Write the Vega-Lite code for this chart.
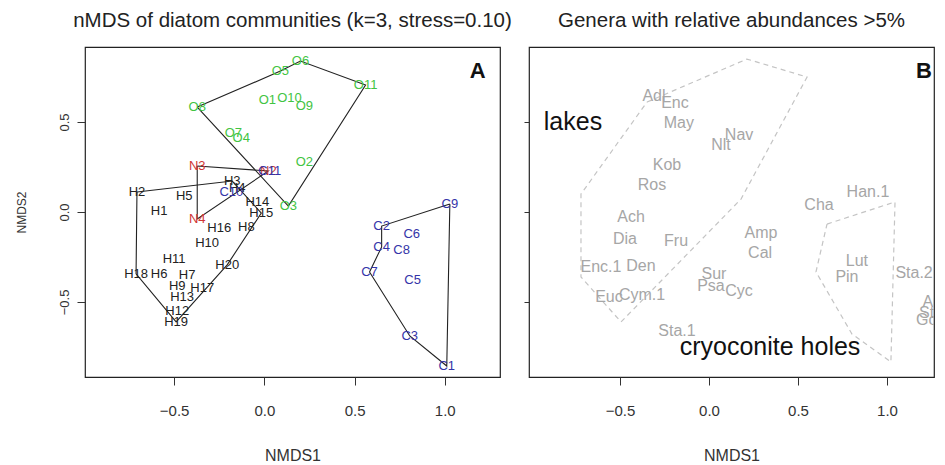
{
  "$schema": "https://vega.github.io/schema/vega-lite/v6.json",
  "padding": {"left": 14, "top": 9, "right": 0, "bottom": 0},
  "spacing": 29,
  "bounds": "flush",
  "config": {
    "font": "Liberation Sans",
    "view": {"stroke": "#222222", "strokeWidth": 1.2},
    "axis": {"grid": false, "domain": false, "tickColor": "#333333", "labelColor": "#333333", "titleColor": "#333333", "labelFont": "Liberation Sans", "titleFont": "Liberation Sans", "labelFontSize": 15, "titleFontSize": 16, "titleFontWeight": "normal", "tickSize": 8},
    "title": {"font": "Liberation Sans", "fontSize": 20.5, "fontWeight": "normal", "color": "#222222", "offset": 16}
  },
  "datasets": {
    "sitesA": [
      {"label": "O8", "grp": "O", "x": -0.372, "y": 0.583},
      {"label": "O5", "grp": "O", "x": 0.089, "y": 0.783},
      {"label": "O6", "grp": "O", "x": 0.2, "y": 0.839},
      {"label": "O11", "grp": "O", "x": 0.561, "y": 0.706},
      {"label": "O1", "grp": "O", "x": 0.017, "y": 0.622},
      {"label": "O10", "grp": "O", "x": 0.139, "y": 0.633},
      {"label": "O9", "grp": "O", "x": 0.222, "y": 0.589},
      {"label": "O7", "grp": "O", "x": -0.172, "y": 0.439},
      {"label": "O4", "grp": "O", "x": -0.128, "y": 0.411},
      {"label": "O2", "grp": "O", "x": 0.222, "y": 0.278},
      {"label": "O3", "grp": "O", "x": 0.133, "y": 0.033},
      {"label": "N3", "grp": "N", "x": -0.372, "y": 0.256},
      {"label": "N4", "grp": "N", "x": -0.372, "y": -0.039},
      {"label": "N2", "grp": "N", "x": 0.022, "y": 0.228},
      {"label": "H2", "grp": "H", "x": -0.706, "y": 0.111},
      {"label": "H18", "grp": "H", "x": -0.711, "y": -0.344},
      {"label": "H19", "grp": "H", "x": -0.489, "y": -0.611},
      {"label": "H12", "grp": "H", "x": -0.483, "y": -0.55},
      {"label": "H17", "grp": "H", "x": -0.344, "y": -0.422},
      {"label": "H20", "grp": "H", "x": -0.206, "y": -0.294},
      {"label": "H8", "grp": "H", "x": -0.1, "y": -0.083},
      {"label": "H15", "grp": "H", "x": -0.017, "y": -0.006},
      {"label": "H14", "grp": "H", "x": -0.039, "y": 0.056},
      {"label": "H3", "grp": "H", "x": -0.178, "y": 0.172},
      {"label": "H4", "grp": "H", "x": -0.15, "y": 0.133},
      {"label": "H5", "grp": "H", "x": -0.444, "y": 0.089},
      {"label": "H1", "grp": "H", "x": -0.583, "y": 0.006},
      {"label": "H16", "grp": "H", "x": -0.25, "y": -0.089},
      {"label": "H10", "grp": "H", "x": -0.317, "y": -0.172},
      {"label": "H11", "grp": "H", "x": -0.5, "y": -0.261},
      {"label": "H6", "grp": "H", "x": -0.583, "y": -0.344},
      {"label": "H7", "grp": "H", "x": -0.428, "y": -0.35},
      {"label": "H9", "grp": "H", "x": -0.483, "y": -0.411},
      {"label": "H13", "grp": "H", "x": -0.456, "y": -0.472},
      {"label": "C9", "grp": "C", "x": 1.028, "y": 0.044},
      {"label": "C2", "grp": "C", "x": 0.65, "y": -0.078},
      {"label": "C4", "grp": "C", "x": 0.65, "y": -0.194},
      {"label": "C7", "grp": "C", "x": 0.583, "y": -0.333},
      {"label": "C3", "grp": "C", "x": 0.806, "y": -0.689},
      {"label": "C1", "grp": "C", "x": 1.011, "y": -0.856},
      {"label": "C6", "grp": "C", "x": 0.817, "y": -0.122},
      {"label": "C8", "grp": "C", "x": 0.761, "y": -0.211},
      {"label": "C5", "grp": "C", "x": 0.822, "y": -0.378},
      {"label": "C10", "grp": "C", "x": -0.183, "y": 0.111},
      {"label": "C11", "grp": "C", "x": 0.03, "y": 0.228}
    ],
    "hullsA": [
      {"hull": "H", "ord": 1, "x": -0.706, "y": 0.111},
      {"hull": "H", "ord": 2, "x": -0.178, "y": 0.172},
      {"hull": "H", "ord": 3, "x": -0.017, "y": -0.006},
      {"hull": "H", "ord": 4, "x": -0.206, "y": -0.294},
      {"hull": "H", "ord": 5, "x": -0.489, "y": -0.611},
      {"hull": "H", "ord": 6, "x": -0.711, "y": -0.344},
      {"hull": "H", "ord": 7, "x": -0.706, "y": 0.111},
      {"hull": "O", "ord": 1, "x": -0.372, "y": 0.583},
      {"hull": "O", "ord": 2, "x": 0.089, "y": 0.783},
      {"hull": "O", "ord": 3, "x": 0.2, "y": 0.839},
      {"hull": "O", "ord": 4, "x": 0.561, "y": 0.706},
      {"hull": "O", "ord": 5, "x": 0.133, "y": 0.033},
      {"hull": "O", "ord": 6, "x": -0.372, "y": 0.583},
      {"hull": "N", "ord": 1, "x": -0.372, "y": 0.256},
      {"hull": "N", "ord": 2, "x": 0.022, "y": 0.228},
      {"hull": "N", "ord": 3, "x": -0.372, "y": -0.039},
      {"hull": "N", "ord": 4, "x": -0.372, "y": 0.256},
      {"hull": "C", "ord": 1, "x": 1.028, "y": 0.044},
      {"hull": "C", "ord": 2, "x": 0.65, "y": -0.078},
      {"hull": "C", "ord": 3, "x": 0.65, "y": -0.194},
      {"hull": "C", "ord": 4, "x": 0.583, "y": -0.333},
      {"hull": "C", "ord": 5, "x": 0.806, "y": -0.689},
      {"hull": "C", "ord": 6, "x": 1.011, "y": -0.856},
      {"hull": "C", "ord": 7, "x": 1.028, "y": 0.044}
    ],
    "genera": [
      {"label": "Adl", "x": -0.309, "y": 0.644},
      {"label": "Enc", "x": -0.191, "y": 0.606},
      {"label": "May", "x": -0.169, "y": 0.494},
      {"label": "Nav", "x": 0.169, "y": 0.428},
      {"label": "Nlt", "x": 0.067, "y": 0.372},
      {"label": "Kob", "x": -0.236, "y": 0.261},
      {"label": "Ros", "x": -0.32, "y": 0.15},
      {"label": "Ach", "x": -0.438, "y": -0.028},
      {"label": "Dia", "x": -0.472, "y": -0.15},
      {"label": "Fru", "x": -0.185, "y": -0.161},
      {"label": "Enc.1", "x": -0.607, "y": -0.306},
      {"label": "Den", "x": -0.382, "y": -0.3},
      {"label": "Euc", "x": -0.562, "y": -0.472},
      {"label": "Cym.1", "x": -0.376, "y": -0.461},
      {"label": "Sur", "x": 0.028, "y": -0.344},
      {"label": "Psa", "x": 0.011, "y": -0.411},
      {"label": "Cyc", "x": 0.169, "y": -0.439},
      {"label": "Sta.1", "x": -0.18, "y": -0.661},
      {"label": "Amp", "x": 0.292, "y": -0.117},
      {"label": "Cal", "x": 0.287, "y": -0.228},
      {"label": "Cha", "x": 0.618, "y": 0.039},
      {"label": "Han.1", "x": 0.893, "y": 0.111},
      {"label": "Lut", "x": 0.831, "y": -0.272},
      {"label": "Pin", "x": 0.775, "y": -0.361},
      {"label": "Sta.2", "x": 1.152, "y": -0.339},
      {"label": "Aul", "x": 1.264, "y": -0.5},
      {"label": "Sta", "x": 1.247, "y": -0.56},
      {"label": "Gom", "x": 1.26, "y": -0.6}
    ],
    "hullsB": [
      {"hull": "lakes", "ord": 1, "x": -0.348, "y": 0.611},
      {"hull": "lakes", "ord": 2, "x": 0.213, "y": 0.85},
      {"hull": "lakes", "ord": 3, "x": 0.551, "y": 0.75},
      {"hull": "lakes", "ord": 4, "x": 0.18, "y": 0.072},
      {"hull": "lakes", "ord": 5, "x": -0.494, "y": -0.611},
      {"hull": "lakes", "ord": 6, "x": -0.719, "y": -0.361},
      {"hull": "lakes", "ord": 7, "x": -0.719, "y": 0.1},
      {"hull": "lakes", "ord": 8, "x": -0.348, "y": 0.611},
      {"hull": "cryo", "ord": 1, "x": 0.663, "y": -0.067},
      {"hull": "cryo", "ord": 2, "x": 1.045, "y": 0.056},
      {"hull": "cryo", "ord": 3, "x": 1.022, "y": -0.833},
      {"hull": "cryo", "ord": 4, "x": 0.803, "y": -0.678},
      {"hull": "cryo", "ord": 5, "x": 0.601, "y": -0.333},
      {"hull": "cryo", "ord": 6, "x": 0.663, "y": -0.067}
    ]
  },
  "hconcat": [
    {
      "title": {"text": "nMDS of diatom communities (k=3, stress=0.10)"},
      "width": 415,
      "height": 330,
      "layer": [
        {
          "data": {"name": "hullsA"},
          "mark": {"type": "line", "color": "#222222", "strokeWidth": 1.1},
          "encoding": {
            "x": {"field": "x", "type": "quantitative", "scale": {"domain": [-0.994, 1.306], "nice": false, "zero": false},
                  "axis": {"values": [-0.5, 0, 0.5, 1], "format": ".1f", "title": "NMDS1", "labelPadding": 18, "titlePadding": 29}},
            "y": {"field": "y", "type": "quantitative", "scale": {"domain": [-0.917, 0.917], "nice": false, "zero": false},
                  "axis": {"values": [-0.5, 0, 0.5], "format": ".1f", "title": "NMDS2", "labelAngle": -90, "labelFontSize": 13, "titleFontSize": 12, "labelPadding": 6, "titlePadding": 30}},
            "detail": {"field": "hull"},
            "order": {"field": "ord", "type": "quantitative"}
          }
        },
        {
          "data": {"name": "sitesA"},
          "mark": {"type": "text", "fontSize": 13, "font": "Liberation Sans", "align": "center", "baseline": "middle"},
          "encoding": {
            "x": {"field": "x", "type": "quantitative"},
            "y": {"field": "y", "type": "quantitative"},
            "text": {"field": "label"},
            "color": {"field": "grp", "type": "nominal", "legend": null,
                      "scale": {"domain": ["H", "O", "N", "C"], "range": ["#222222", "#42c442", "#d03535", "#3434a8"]}}
          }
        },
        {
          "data": {"values": [{"lab": "A", "x": 1.183, "y": 0.783}]},
          "mark": {"type": "text", "fontSize": 22, "fontWeight": "bold", "color": "#111111", "align": "center", "baseline": "middle"},
          "encoding": {
            "x": {"field": "x", "type": "quantitative"},
            "y": {"field": "y", "type": "quantitative"},
            "text": {"field": "lab"}
          }
        }
      ]
    },
    {
      "title": {"text": "Genera with relative abundances >5%"},
      "width": 405,
      "height": 330,
      "layer": [
        {
          "data": {"name": "hullsB"},
          "mark": {"type": "line", "color": "#c4c4c4", "strokeWidth": 1.2, "strokeDash": [5, 4]},
          "encoding": {
            "x": {"field": "x", "type": "quantitative", "scale": {"domain": [-1.011, 1.264], "nice": false, "zero": false},
                  "axis": {"values": [-0.5, 0, 0.5, 1], "format": ".1f", "title": "NMDS1", "labelPadding": 18, "titlePadding": 29}},
            "y": {"field": "y", "type": "quantitative", "scale": {"domain": [-0.917, 0.917], "nice": false, "zero": false},
                  "axis": {"values": [-0.5, 0, 0.5], "labels": false, "title": null, "tickSize": 5}},
            "detail": {"field": "hull"},
            "order": {"field": "ord", "type": "quantitative"}
          }
        },
        {
          "data": {"name": "genera"},
          "mark": {"type": "text", "fontSize": 16, "color": "#a6a6a6", "align": "center", "baseline": "middle", "clip": true},
          "encoding": {
            "x": {"field": "x", "type": "quantitative"},
            "y": {"field": "y", "type": "quantitative"},
            "text": {"field": "label"}
          }
        },
        {
          "data": {"values": [
            {"lab": "lakes", "x": -0.764, "y": 0.5},
            {"lab": "cryoconite holes", "x": 0.343, "y": -0.75}
          ]},
          "mark": {"type": "text", "fontSize": 25, "color": "#111111", "align": "center", "baseline": "middle"},
          "encoding": {
            "x": {"field": "x", "type": "quantitative"},
            "y": {"field": "y", "type": "quantitative"},
            "text": {"field": "lab"}
          }
        },
        {
          "data": {"values": [{"lab": "B", "x": 1.208, "y": 0.783}]},
          "mark": {"type": "text", "fontSize": 22, "fontWeight": "bold", "color": "#111111", "align": "center", "baseline": "middle"},
          "encoding": {
            "x": {"field": "x", "type": "quantitative"},
            "y": {"field": "y", "type": "quantitative"},
            "text": {"field": "lab"}
          }
        }
      ]
    }
  ]
}
